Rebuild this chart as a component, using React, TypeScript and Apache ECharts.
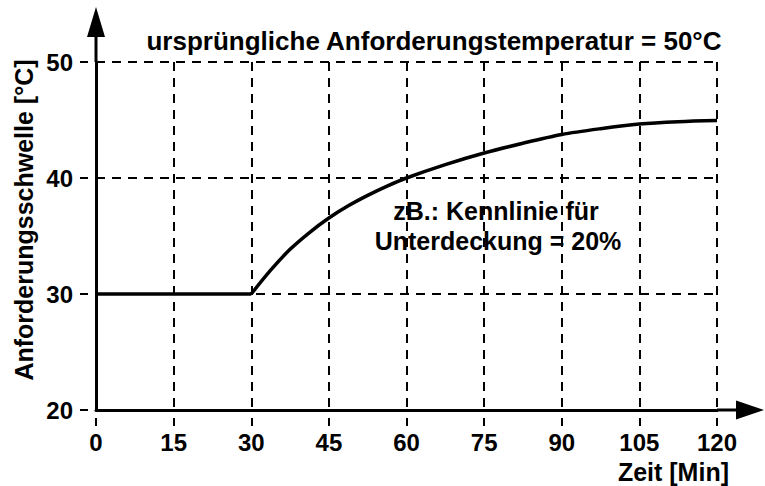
import React, { useEffect, useRef } from "react";
import * as echarts from "echarts";

// Zeit [Min]
const timeValues = [0, 30, 33.75, 37.5, 41.25, 45, 48.75, 52.5, 56.25, 60, 67.5, 75, 82.5, 90, 97.5, 105, 112.5, 120];
// Anforderungsschwelle [°C]
const thresholdValues = [30, 30, 32.05, 33.85, 35.3, 36.55, 37.6, 38.5, 39.3, 40.0, 41.15, 42.15, 43.0, 43.75, 44.25, 44.65, 44.85, 44.95];
const breakTime = 30;

const xTicks = { min: 0, max: 120, interval: 15 };
const yTicks = { min: 20, max: 50, interval: 10 };

const titleText = "ursprüngliche Anforderungstemperatur = 50°C";
const noteLines = ["zB.: Kennlinie für", "Unterdeckung = 20%"];
const xName = "Zeit [Min]";
const yName = "Anforderungsschwelle [°C]";

const FONT = "'Liberation Sans', Arial, sans-serif";

export default function App() {
  const ref = useRef<HTMLDivElement>(null);
  useEffect(() => {
    if (!ref.current) return;
    const chart = echarts.init(ref.current, null, { renderer: "svg" });
    const pts = timeValues.map((t, i) => [t, thresholdValues[i]]);
    const flat = pts.filter((p) => p[0] <= breakTime);
    const curve = pts.filter((p) => p[0] >= breakTime);

    const gridLine = { color: "#000", width: 2, type: [9, 7] as any };
    const tickLine = { color: "#000", width: 2, type: [8, 8] as any, dashOffset: 8 };
    const labelStyle = { color: "#000", fontSize: 24, fontWeight: "bold", fontFamily: FONT };

    chart.setOption({
      animation: false,
      backgroundColor: "#fff",
      grid: { left: 96, right: 48, top: 62, bottom: 76 },
      xAxis: {
        type: "value",
        min: xTicks.min,
        max: xTicks.max,
        interval: xTicks.interval,
        axisLine: { show: true, lineStyle: { color: "#000", width: 3 } },
        axisTick: { show: true, length: 17, lineStyle: tickLine },
        axisLabel: { margin: 20, ...labelStyle },
        splitLine: { show: true, lineStyle: gridLine },
      },
      yAxis: {
        type: "value",
        min: yTicks.min,
        max: yTicks.max,
        interval: yTicks.interval,
        axisLine: { show: true, lineStyle: { color: "#000", width: 3 } },
        axisTick: { show: true, length: 17, lineStyle: tickLine },
        axisLabel: { margin: 23, ...labelStyle },
        splitLine: { show: true, lineStyle: gridLine },
      },
      series: [
        {
          type: "line",
          data: flat,
          symbol: "none",
          lineStyle: { color: "#000", width: 3.5 },
          z: 5,
        },
        {
          type: "line",
          data: curve,
          smooth: 0.3,
          symbol: "none",
          lineStyle: { color: "#000", width: 3.5 },
          z: 5,
        },
      ],
    });

    const o = chart.convertToPixel({ gridIndex: 0 }, [xTicks.min, yTicks.min]) as number[];
    const top = chart.convertToPixel({ gridIndex: 0 }, [xTicks.min, yTicks.max]) as number[];
    const right = chart.convertToPixel({ gridIndex: 0 }, [xTicks.max, yTicks.min]) as number[];

    const textStyle = (text: string, align: string, size = 25) => ({
      text,
      fill: "#000",
      font: `bold ${size}px ${FONT}`,
      align,
      verticalAlign: "middle",
    });

    chart.setOption({
      graphic: [
        { type: "line", shape: { x1: o[0], y1: top[1], x2: o[0], y2: 34 }, style: { stroke: "#000", lineWidth: 3 }, z: 10 },
        { type: "polygon", shape: { points: [[o[0], 7], [o[0] - 9, 37], [o[0] + 9, 37]] }, style: { fill: "#000" }, z: 10 },
        { type: "line", shape: { x1: right[0], y1: o[1], x2: 738, y2: o[1] }, style: { stroke: "#000", lineWidth: 3 }, z: 10 },
        { type: "polygon", shape: { points: [[764, o[1]], [736, o[1] - 9.5], [736, o[1] + 9.5]] }, style: { fill: "#000" }, z: 10 },
        { type: "text", x: 434, y: 41, style: textStyle(titleText, "center", 26), z: 10 },
        { type: "text", x: 496, y: 211, style: textStyle(noteLines[0], "center"), z: 10 },
        { type: "text", x: 498, y: 241, style: textStyle(noteLines[1], "center"), z: 10 },
        { type: "text", x: 729, y: 472, style: textStyle(xName, "right"), z: 10 },
        { type: "text", x: 24, y: 220, rotation: Math.PI / 2, style: textStyle(yName, "center"), z: 10 },
      ],
    });

    return () => chart.dispose();
  }, []);
  return <div ref={ref} style={{ width: 765, height: 486, position: "fixed", left: 0, top: 0 }} />;
}
